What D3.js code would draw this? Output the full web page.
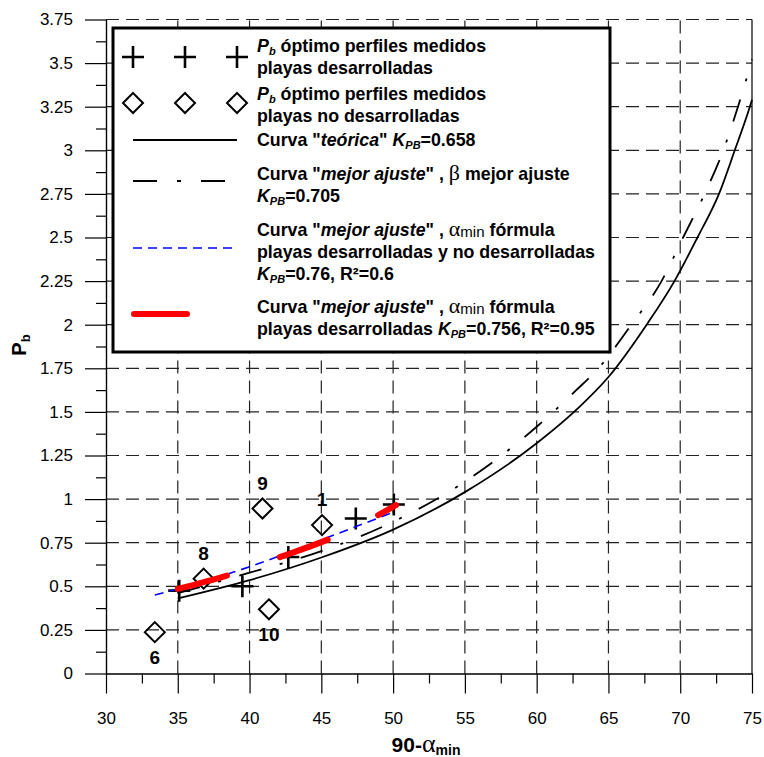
<!DOCTYPE html>
<html lang="es">
<head>
<meta charset="UTF-8">
<title>Pb vs 90-αmin</title>
<script src="https://d3js.org/d3.v7.min.js"></script>
<style>
  body { margin: 0; background: #fff; }
  svg { display: block; font-family: "Liberation Sans", Arial, sans-serif; }
  .axis .tick text { font-size: 17px; fill: #000; }
  .axis path, .axis line { stroke: #000; stroke-width: 1.2; }
  .grid line { stroke: #222; stroke-width: 1.2; stroke-dasharray: 13 7; }
  .lbl { font-weight: bold; font-size: 19px; text-anchor: middle; }
  .leg { font-weight: bold; font-size: 17.8px; }
</style>
</head>
<body>
<div id="chart"></div>
<script>
const width = 764, height = 757;
const margin = {top: 19.5, right: 12, bottom: 83.5, left: 106};

// ticks
const xTicks = [30, 35, 40, 45, 50, 55, 60, 65, 70, 75];
const yTicks = [0, 0.25, 0.5, 0.75, 1, 1.25, 1.5, 1.75, 2, 2.25, 2.5, 2.75, 3, 3.25, 3.5, 3.75];
const yTickLabels = ["0", "0.25", "0.5", "0.75", "1", "1.25", "1.5", "1.75", "2", "2.25", "2.5", "2.75", "3", "3.25", "3.5", "3.75"];

// Pb optimo perfiles medidos, playas desarrolladas (+)
const desarrolladas = [[35.1, 0.475], [39.5, 0.5], [42.7, 0.668], [47.4, 0.889], [50.05, 0.969]];
// Pb optimo perfiles medidos, playas no desarrolladas (diamantes)
const noDesarrolladas = [[33.4, 0.237], [36.8, 0.544], [40.9, 0.946], [41.35, 0.368], [45.05, 0.851]];
const noDesLabels = ["6", "8", "9", "10", "1"];
const noDesLabelSide = ["below", "above", "above", "below", "above"];

// curva "teorica" KPB=0.658
const curvaTeorica = [[35, 0.43], [40, 0.535], [45, 0.665], [50, 0.825], [55, 1.04], [60, 1.32], [63, 1.53],
  [65, 1.70], [67.66, 2.0], [69.6, 2.25], [71.2, 2.5], [72.7, 2.75], [73.8, 3.0], [74.85, 3.25], [75, 3.29]];
// curva "mejor ajuste", beta mejor ajuste KPB=0.705
const curvaBeta = [[35, 0.46], [40, 0.578], [45, 0.702], [50, 0.87], [55, 1.10], [60, 1.415], [62.7, 1.62],
  [64.3, 1.75], [66.6, 2.0], [68.7, 2.25], [70.2, 2.5], [71.7, 2.75], [73.0, 3.0], [74.1, 3.27], [75, 3.52]];
// curva "mejor ajuste", alfa_min formula, todas las playas KPB=0.76
const curvaTodas = [[33.4, 0.45], [35, 0.485], [40, 0.612], [45, 0.766], [50, 0.925]];
// curva "mejor ajuste", alfa_min formula, playas desarrolladas KPB=0.756
const curvaDesarrolladas = [[35, 0.485], [38.75, 0.57], [42.1, 0.667], [45.8, 0.78], [49.0, 0.91], [50.2, 0.965]];

// legend texts: each run is [text, style]
const lineaAlfa = [["Curva \""], ["mejor ajuste", "i"], ["\" , "], ["α", "g"], ["min", "m"], [" fórmula"]];
const legendItems = [
  {key: "plus", lines: [[["P", "i"], ["b", "sub"], [" óptimo perfiles medidos"]], [["playas desarrolladas"]]]},
  {key: "diamond", lines: [[["P", "i"], ["b", "sub"], [" óptimo perfiles medidos"]], [["playas no desarrolladas"]]]},
  {key: "teorica", lines: [[["Curva \""], ["teórica", "i"], ["\" "], ["K", "i"], ["PB", "sub"], ["=0.658"]]]},
  {key: "beta", lines: [[["Curva \""], ["mejor ajuste", "i"], ["\" , "], ["β", "g"], [" mejor ajuste"]],
                        [["K", "i"], ["PB", "sub"], ["=0.705"]]]},
  {key: "todas", lines: [lineaAlfa, [["playas desarrolladas y no desarrolladas"]],
                         [["K", "i"], ["PB", "sub"], ["=0.76, R²=0.6"]]]},
  {key: "desarr", lines: [lineaAlfa, [["playas desarrolladas "], ["K", "i"], ["PB", "sub"], ["=0.756, R²=0.95"]]]}
];

const svg = d3.select("#chart").append("svg")
  .attr("width", width)
  .attr("height", height);

const x = d3.scaleLinear().domain([30, 75]).range([margin.left, width - margin.right]);
const y = d3.scaleLinear().domain([0, 3.75]).range([height - margin.bottom, margin.top]);

// grid
const grid = svg.append("g").attr("class", "grid");
grid.selectAll(".gx").data(xTicks.slice(1, -1)).enter().append("line")
  .attr("x1", d => x(d)).attr("x2", d => x(d))
  .attr("y1", y(0)).attr("y2", y(3.75));
grid.selectAll(".gy").data(yTicks.slice(1)).enter().append("line")
  .attr("x1", x(30)).attr("x2", x(75))
  .attr("y1", d => y(d)).attr("y2", d => y(d));

// axes
const mid = arr => arr.slice(1).map((d, i) => (d + arr[i]) / 2);

svg.append("g").attr("class", "axis")
  .attr("transform", `translate(0,${y(0)})`)
  .call(d3.axisBottom(x).tickValues(mid(xTicks)).tickSize(10).tickSizeOuter(0).tickFormat(""));
svg.append("g").attr("class", "axis")
  .attr("transform", `translate(0,${y(0)})`)
  .call(d3.axisBottom(x).tickValues(xTicks).tickSize(20).tickSizeOuter(0).tickPadding(18.5));

svg.append("g").attr("class", "axis")
  .attr("transform", `translate(${x(30)},0)`)
  .call(d3.axisLeft(y).tickValues(mid(yTicks)).tickSize(10).tickSizeOuter(0).tickFormat(""));
svg.append("g").attr("class", "axis")
  .attr("transform", `translate(${x(30)},0)`)
  .call(d3.axisLeft(y).tickValues(yTicks).tickSize(21).tickSizeOuter(0).tickPadding(12)
    .tickFormat((d, i) => yTickLabels[i]));

// right border
svg.append("line")
  .attr("x1", x(75)).attr("x2", x(75)).attr("y1", y(0)).attr("y2", y(3.75))
  .attr("stroke", "#000").attr("stroke-width", 1.2);

// axis titles
const xt = svg.append("text")
  .attr("x", 426).attr("y", 752)
  .attr("text-anchor", "middle")
  .attr("font-weight", "bold").attr("font-size", 21);
xt.append("tspan").text("90-");
xt.append("tspan").text("α").attr("font-family", "'Liberation Serif', 'DejaVu Serif', serif")
  .attr("font-weight", "normal").attr("font-size", 26);
xt.append("tspan").text("min").attr("font-size", 14).attr("dy", 3);

const yt = svg.append("text")
  .attr("transform", "translate(26,345) rotate(-90)")
  .attr("text-anchor", "middle")
  .attr("font-weight", "bold").attr("font-size", 20);
yt.append("tspan").text("P");
yt.append("tspan").text("b").attr("font-size", 13).attr("dy", 4);

// markers
svg.append("g").selectAll("path").data(desarrolladas).enter().append("path")
  .attr("d", d => `M${x(d[0]) - 11},${y(d[1])}h22M${x(d[0])},${y(d[1]) - 11}v22`)
  .attr("stroke", "#000").attr("stroke-width", 2.6).attr("fill", "none");

svg.append("g").selectAll("path").data(noDesarrolladas).enter().append("path")
  .attr("d", d => `M${x(d[0])},${y(d[1]) - 10}l10,10l-10,10l-10,-10z`)
  .attr("stroke", "#000").attr("stroke-width", 2).attr("fill", "none");

svg.append("g").selectAll("text").data(noDesarrolladas).enter().append("text")
  .attr("class", "lbl")
  .attr("x", d => x(d[0]))
  .attr("y", (d, i) => noDesLabelSide[i] === "above" ? y(d[1]) - 19 : y(d[1]) + 32)
  .text((d, i) => noDesLabels[i]);

// curves
const line = d3.line().x(d => x(d[0])).y(d => y(d[1])).curve(d3.curveMonotoneX);

svg.append("path").datum(curvaTeorica).attr("d", line)
  .attr("fill", "none").attr("stroke", "#000").attr("stroke-width", 1.8);
svg.append("path").datum(curvaBeta).attr("d", line)
  .attr("fill", "none").attr("stroke", "#000").attr("stroke-width", 1.8)
  .attr("stroke-dasharray", "23 19 3 19");
svg.append("path").datum(curvaTodas).attr("d", line)
  .attr("fill", "none").attr("stroke", "#0000ff").attr("stroke-width", 1.6)
  .attr("stroke-dasharray", "9 6");
svg.append("path").datum(curvaDesarrolladas).attr("d", line)
  .attr("fill", "none").attr("stroke", "#ff0000").attr("stroke-width", 6)
  .attr("stroke-linecap", "round").attr("stroke-dasharray", "51 56");

// legend
const leg = svg.append("g");
leg.append("rect")
  .attr("x", 113).attr("y", 28).attr("width", 497).attr("height", 324)
  .attr("fill", "#fff").attr("stroke", "#000").attr("stroke-width", 3);

const symY = {plus: 57, diamond: 103, teorica: 140, beta: 181, todas: 248, desarr: 314};
const textY = {plus: 46, diamond: 94, teorica: 140, beta: 174, todas: 230, desarr: 307};
const markX = [133, 185, 237];

markX.forEach(mx => {
  leg.append("path").attr("d", `M${mx - 11},${symY.plus}h22M${mx},${symY.plus - 11}v22`)
    .attr("stroke", "#000").attr("stroke-width", 2.6);
  leg.append("path").attr("d", `M${mx},${symY.diamond - 10}l10,10l-10,10l-10,-10z`)
    .attr("stroke", "#000").attr("stroke-width", 2).attr("fill", "none");
});
leg.append("line").attr("x1", 133).attr("x2", 237).attr("y1", symY.teorica).attr("y2", symY.teorica)
  .attr("stroke", "#000").attr("stroke-width", 1.8);
leg.append("line").attr("x1", 133).attr("x2", 225).attr("y1", symY.beta).attr("y2", symY.beta)
  .attr("stroke", "#000").attr("stroke-width", 1.8).attr("stroke-dasharray", "24 20 4 20");
leg.append("line").attr("x1", 133).attr("x2", 233).attr("y1", symY.todas).attr("y2", symY.todas)
  .attr("stroke", "#0000ff").attr("stroke-width", 1.6).attr("stroke-dasharray", "9 6");
leg.append("line").attr("x1", 134).attr("x2", 187).attr("y1", symY.desarr).attr("y2", symY.desarr)
  .attr("stroke", "#ff0000").attr("stroke-width", 6).attr("stroke-linecap", "round");

function addRuns(t, runs) {
  let shift = 0;
  runs.forEach(([s, st]) => {
    const ts = t.append("tspan").text(s);
    let sh = 0;
    if (st === "i") ts.attr("font-style", "italic");
    if (st === "sub") { ts.attr("font-style", "italic").attr("font-size", 11); sh = 3; }
    if (st === "g") ts.attr("font-family", "'Liberation Serif', 'DejaVu Serif', serif")
      .attr("font-weight", "normal").attr("font-size", 22);
    if (st === "m") { ts.attr("font-weight", "normal").attr("font-size", 15); sh = 1; }
    if (sh !== shift) ts.attr("dy", sh - shift);
    shift = sh;
  });
}

legendItems.forEach(item => {
  item.lines.forEach((runs, j) => {
    const t = leg.append("text").attr("class", "leg")
      .attr("x", 257).attr("y", textY[item.key] + 6 + j * 22);
    addRuns(t, runs);
  });
});
</script>
</body>
</html>
